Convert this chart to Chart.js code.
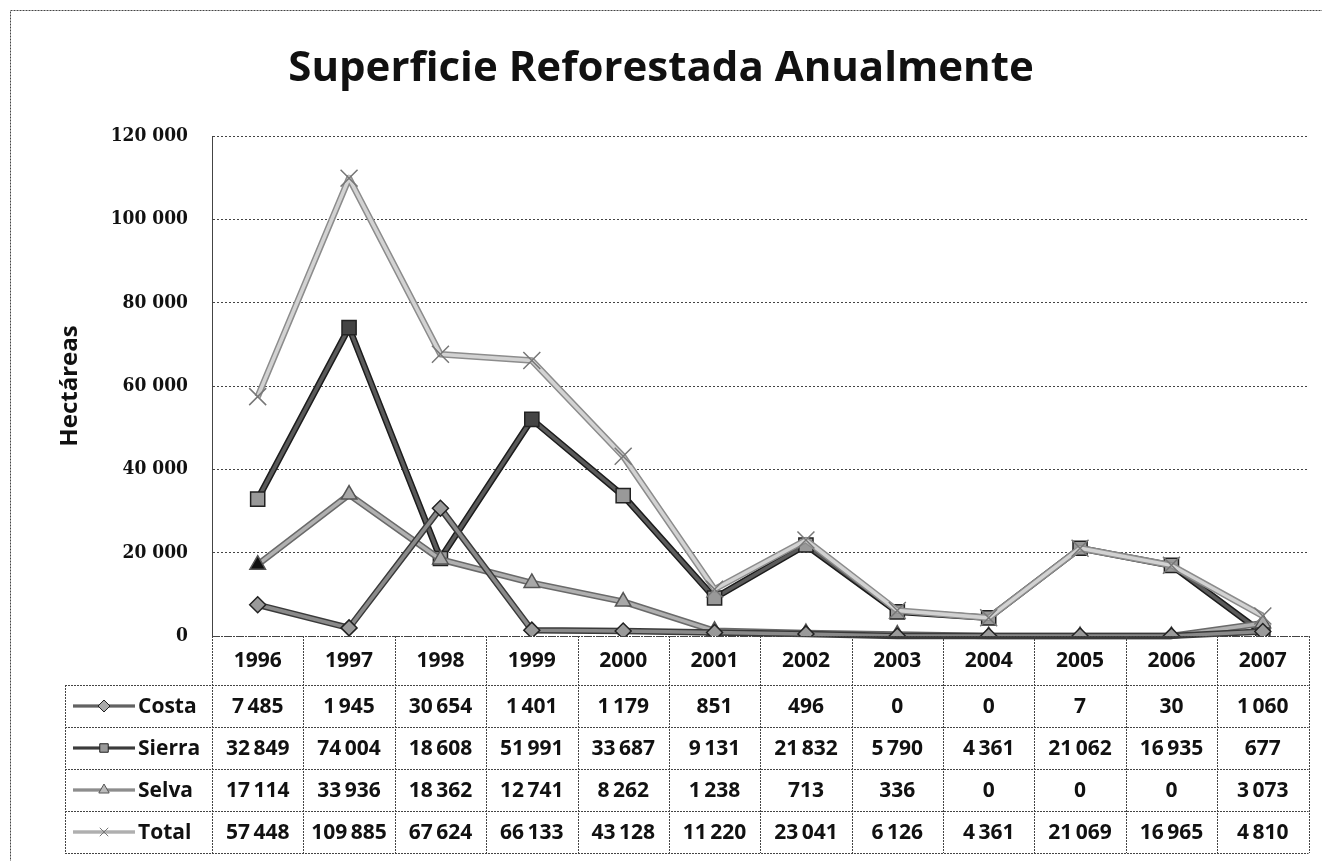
<!DOCTYPE html>
<html>
<head>
<meta charset="utf-8">
<script src="https://cdn.jsdelivr.net/npm/chart.js@4.4.1/dist/chart.umd.min.js"></script>
<style>
  body { margin: 0; background: #fff; }
</style>
</head>
<body>
<canvas id="chart" width="1322" height="861"></canvas>
<script>
// datos (hectáreas por año)
const years = ['1996', '1997', '1998', '1999', '2000', '2001', '2002', '2003', '2004', '2005', '2006', '2007'];
const costa = [7485, 1945, 30654, 1401, 1179, 851, 496, 0, 0, 7, 30, 1060];
const sierra = [32849, 74004, 18608, 51991, 33687, 9131, 21832, 5790, 4361, 21062, 16935, 677];
const selva = [17114, 33936, 18362, 12741, 8262, 1238, 713, 336, 0, 0, 0, 3073];
const total = [57448, 109885, 67624, 66133, 43128, 11220, 23041, 6126, 4361, 21069, 16965, 4810];
const yTicks = [0, 20000, 40000, 60000, 80000, 100000, 120000];

function fmt(n, sep) {
  return String(n).replace(/\B(?=(\d{3})+(?!\d))/g, sep || ' ');
}

// borde oscuro alrededor de cada línea
const outlinePlugin = {
  id: 'outline',
  beforeDatasetDraw(chart, args) {
    const ds = chart.data.datasets[args.index];
    const pts = args.meta.data;
    const ctx = chart.ctx;
    ctx.save();
    ctx.beginPath();
    pts.forEach((p, i) => i ? ctx.lineTo(p.x, p.y) : ctx.moveTo(p.x, p.y));
    ctx.strokeStyle = ds.outlineColor;
    ctx.lineWidth = ds.borderWidth + 3;
    ctx.lineJoin = 'round';
    ctx.stroke();
    ctx.restore();
  }
};

// tabla de datos debajo del gráfico
const tablePlugin = {
  id: 'dataTable',
  afterDraw(chart) {
    const ctx = chart.ctx;
    const a = chart.chartArea;
    const x = chart.scales.x;
    const colW = x.width / years.length;
    const headTop = a.bottom;
    const headBot = a.bottom + 49;
    const rowH = 42;
    const tableLeft = 65;
    const sets = chart.data.datasets;
    const bottom = headBot + rowH * sets.length;

    ctx.save();
    // marco exterior
    ctx.strokeStyle = '#444';
    ctx.lineWidth = 1;
    ctx.setLineDash([2, 1]);
    ctx.strokeRect(10.5, 10.5, 1340, 880);

    // líneas horizontales
    ctx.beginPath();
    ctx.moveTo(a.left, headTop + 0.5);
    ctx.lineTo(a.right, headTop + 0.5);
    for (let r = 0; r <= sets.length; r++) {
      const yy = Math.round(headBot + r * rowH) + 0.5;
      ctx.moveTo(tableLeft, yy);
      ctx.lineTo(a.right, yy);
    }
    // líneas verticales
    ctx.moveTo(tableLeft + 0.5, headBot);
    ctx.lineTo(tableLeft + 0.5, bottom);
    for (let i = 0; i <= years.length; i++) {
      const xx = Math.round(a.left + i * colW) + 0.5;
      ctx.moveTo(xx, headTop);
      ctx.lineTo(xx, bottom);
    }
    ctx.stroke();
    ctx.setLineDash([]);

    ctx.fillStyle = '#111';
    ctx.font = 'bold 21px "Open Sans"';
    ctx.textAlign = 'center';
    ctx.textBaseline = 'middle';
    years.forEach((yr, i) => {
      ctx.fillText(yr, x.getPixelForValue(i), (headTop + headBot) / 2 + 1);
    });

    sets.forEach((ds, r) => {
      const cy = headBot + r * rowH + rowH / 2;
      // clave de leyenda
      ctx.lineWidth = 3;
      ctx.strokeStyle = ds.outlineColor;
      ctx.beginPath();
      ctx.moveTo(tableLeft + 8, cy);
      ctx.lineTo(tableLeft + 70, cy);
      ctx.stroke();
      ctx.lineWidth = 1;
      ctx.strokeStyle = ds.borderColor;
      ctx.stroke();
      ctx.fillStyle = ds.keyFill;
      ctx.strokeStyle = ds.pointBorderColor;
      ctx.lineWidth = 1;
      Chart.helpers.drawPoint(ctx, { pointStyle: ds.pointStyle, radius: 6, rotation: 0, borderWidth: 1 }, tableLeft + 39, cy);

      ctx.fillStyle = '#111';
      ctx.textAlign = 'left';
      ctx.fillText(ds.label, tableLeft + 73, cy + 1);
      ctx.textAlign = 'center';
      ds.data.forEach((v, i) => {
        ctx.fillText(fmt(v, '\u2009'), x.getPixelForValue(i), cy + 1);
      });
    });
    ctx.restore();
  }
};

new Chart(document.getElementById('chart'), {
  type: 'line',
  data: {
    labels: years,
    datasets: [
      {
        label: 'Costa', data: costa, order: 1,
        borderColor: '#8a8a8a', outlineColor: '#3a3a3a', borderWidth: 3.5,
        pointStyle: 'rectRot', pointRadius: 8, pointBackgroundColor: '#9a9a9a',
        pointBorderColor: '#222', pointBorderWidth: 1.5, keyFill: '#aaa'
      },
      {
        label: 'Sierra', data: sierra, order: 3,
        borderColor: '#5a5a5a', outlineColor: '#1c1c1c', borderWidth: 3.5,
        pointStyle: 'rect', pointRadius: 10,
        pointBackgroundColor: ctx => (ctx.dataIndex === 1 || ctx.dataIndex === 3) ? '#444' : '#999',
        pointBorderColor: '#222', pointBorderWidth: 1.5, keyFill: '#999'
      },
      {
        label: 'Selva', data: selva, order: 2,
        borderColor: '#b0b0b0', outlineColor: '#6a6a6a', borderWidth: 3.5,
        pointStyle: 'triangle', pointRadius: 9,
        pointBackgroundColor: ctx => ctx.dataIndex === 0 ? '#111' : '#a8a8a8',
        pointBorderColor: '#555', pointBorderWidth: 1.5, keyFill: '#bbb'
      },
      {
        label: 'Total', data: total, order: 0,
        borderColor: '#d2d2d2', outlineColor: '#8c8c8c', borderWidth: 3.5,
        pointStyle: 'crossRot', pointRadius: 12,
        pointBorderColor: '#777', pointBorderWidth: 1.5, keyFill: '#ddd'
      }
    ]
  },
  options: {
    responsive: false,
    animation: false,
    layout: { padding: { left: 12, right: 12, top: 0, bottom: 225 } },
    plugins: {
      legend: { display: false },
      tooltip: { enabled: false },
      title: {
        display: true,
        text: 'Superficie Reforestada Anualmente',
        color: '#111',
        font: { family: 'Open Sans', weight: 'bold', size: 42 },
        padding: { top: 44, bottom: 41.6 }
      }
    },
    scales: {
      x: {
        type: 'category',
        display: false,
        offset: true
      },
      y: {
        min: 0,
        max: 120000,
        afterFit(scale) { scale.width = 200; },
        afterBuildTicks(scale) { scale.ticks = yTicks.map(v => ({ value: v })); },
        ticks: {
          padding: 24,
          color: '#111',
          font: { family: '"DejaVu Serif Condensed", "DejaVu Serif"', weight: 'bold', size: 19 },
          callback: v => fmt(v)
        },
        grid: { color: '#444', lineWidth: 1, drawTicks: false },
        border: { display: true, color: '#444', dash: [2, 2] },
        title: {
          display: true,
          text: 'Hectáreas',
          color: '#111',
          font: { family: 'Open Sans', weight: 'bold', size: 24 },
          padding: { top: 44, bottom: 0 }
        }
      }
    }
  },
  plugins: [outlinePlugin, tablePlugin]
});
</script>
</body>
</html>
